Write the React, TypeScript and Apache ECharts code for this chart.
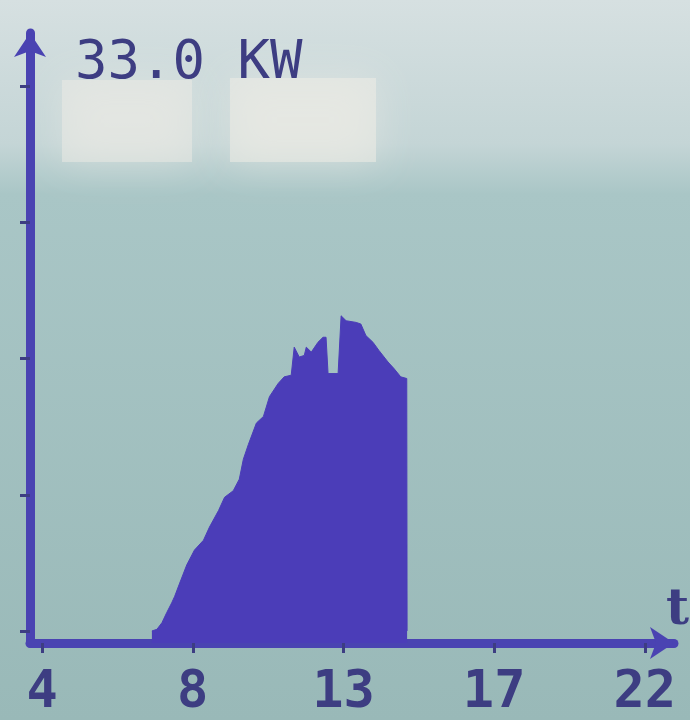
import React, { useEffect, useRef } from "react";
import * as echarts from "echarts";

// Hours of the day (t) and output power (kW) read from the display
const times = [
  7.28, 7.43, 7.58, 7.72, 7.87, 7.96, 8.11, 8.32, 8.55, 8.82, 9.0, 9.27, 9.45, 9.71, 9.89,
  10.01, 10.16, 10.4, 10.61, 10.79, 11.05, 11.23, 11.44, 11.53, 11.68, 11.83, 11.89, 12.04,
  12.24, 12.39, 12.48, 12.54, 12.84, 12.93, 13.08, 13.38, 13.52, 13.67, 13.88, 14.06, 14.33,
  14.51, 14.71, 14.89, 14.9,
];
const powerKW = [
  0, 0.1, 0.5, 1.1, 1.7, 2.1, 2.9, 4.0, 4.9, 5.5, 6.3, 7.3, 8.1, 8.5, 9.2,
  10.4, 11.3, 12.6, 13.0, 14.2, 15.0, 15.4, 15.5, 17.2, 16.6, 16.7, 17.2, 16.9,
  17.5, 17.8, 17.8, 15.6, 15.6, 19.1, 18.8, 18.7, 18.6, 17.9, 17.5, 17.0, 16.3,
  15.9, 15.4, 15.3, 0,
];
const xTickValues = [4, 8.5, 13, 17.5, 22];
const yTickValues = [0, 8.25, 16.5, 24.75, 33];
const scaleLabel = "33.0 KW";
const xAxisName = "t";

export default function App() {
  const ref = useRef<HTMLDivElement>(null);
  useEffect(() => {
    if (!ref.current) return;
    const chart = echarts.init(ref.current, undefined, { renderer: "svg" });
    const axisColor = "#4a43b2";
    const textColor = "#3d3d82";
    chart.setOption({
      animation: false,
      backgroundColor: {
        type: "linear",
        x: 0,
        y: 0,
        x2: 0,
        y2: 1,
        colorStops: [
          { offset: 0, color: "#d6e0e1" },
          { offset: 0.2, color: "#c4d5d6" },
          { offset: 0.27, color: "#a9c6c6" },
          { offset: 1, color: "#99b9b8" },
        ],
      },
      title: {
        text: scaleLabel,
        left: 70,
        top: 27,
        textStyle: {
          fontFamily: "DejaVu Sans Mono",
          fontSize: 54,
          fontWeight: "normal",
          color: textColor,
        },
      },
      graphic: [
        {
          type: "rect",
          z: -1,
          shape: { x: 62, y: 80, width: 130, height: 82 },
          style: { fill: "rgba(238,236,230,0.5)", shadowBlur: 40, shadowColor: "rgba(238,236,230,0.9)" },
          silent: true,
        },
        {
          type: "rect",
          z: -1,
          shape: { x: 230, y: 78, width: 146, height: 84 },
          style: { fill: "rgba(238,236,230,0.55)", shadowBlur: 40, shadowColor: "rgba(238,236,230,0.9)" },
          silent: true,
        },
        {
          type: "text",
          left: 666,
          top: 581,
          style: {
            text: xAxisName,
            fontFamily: "DejaVu Serif",
            fontSize: 50,
            fontWeight: "bold",
            fill: textColor,
          },
        },
      ],
      grid: { left: 30, right: 16, top: 33, bottom: 77, containLabel: false },
      xAxis: {
        type: "value",
        min: 3.64,
        max: 22.87,
        axisLine: {
          onZero: false,
          lineStyle: { color: axisColor, width: 9 },
          symbol: ["none", "arrow"],
          symbolSize: [24, 24],
        },
        axisTick: {
          customValues: xTickValues,
          length: 10,
          lineStyle: { color: textColor, width: 3 },
        },
        axisLabel: {
          customValues: xTickValues,
          formatter: (v: number) => String(Math.floor(v)),
          fontFamily: "DejaVu Sans Mono",
          fontWeight: "bold",
          fontSize: 52,
          color: textColor,
          margin: 20,
        },
        splitLine: { show: false },
      },
      yAxis: {
        type: "value",
        min: -0.73,
        max: 36.24,
        axisLine: {
          show: true,
          onZero: false,
          lineStyle: { color: axisColor, width: 9 },
          symbol: ["none", "arrow"],
          symbolSize: [24, 24],
        },
        axisTick: {
          show: true,
          customValues: yTickValues,
          length: 10,
          lineStyle: { color: textColor, width: 3 },
        },
        axisLabel: { show: false, customValues: yTickValues },
        splitLine: { show: false },
      },
      series: [
        {
          type: "line",
          data: times.map((t, i) => [t, powerKW[i]]),
          showSymbol: false,
          lineStyle: { color: "#4b3db8", width: 1 },
          areaStyle: { color: "#4b3db8", opacity: 1, origin: "start" },
          z: 1,
        },
      ],
    });
    return () => chart.dispose();
  }, []);
  return (
    <div
      ref={ref}
      style={{ position: "fixed", left: 0, top: 0, width: 690, height: 720 }}
    />
  );
}
